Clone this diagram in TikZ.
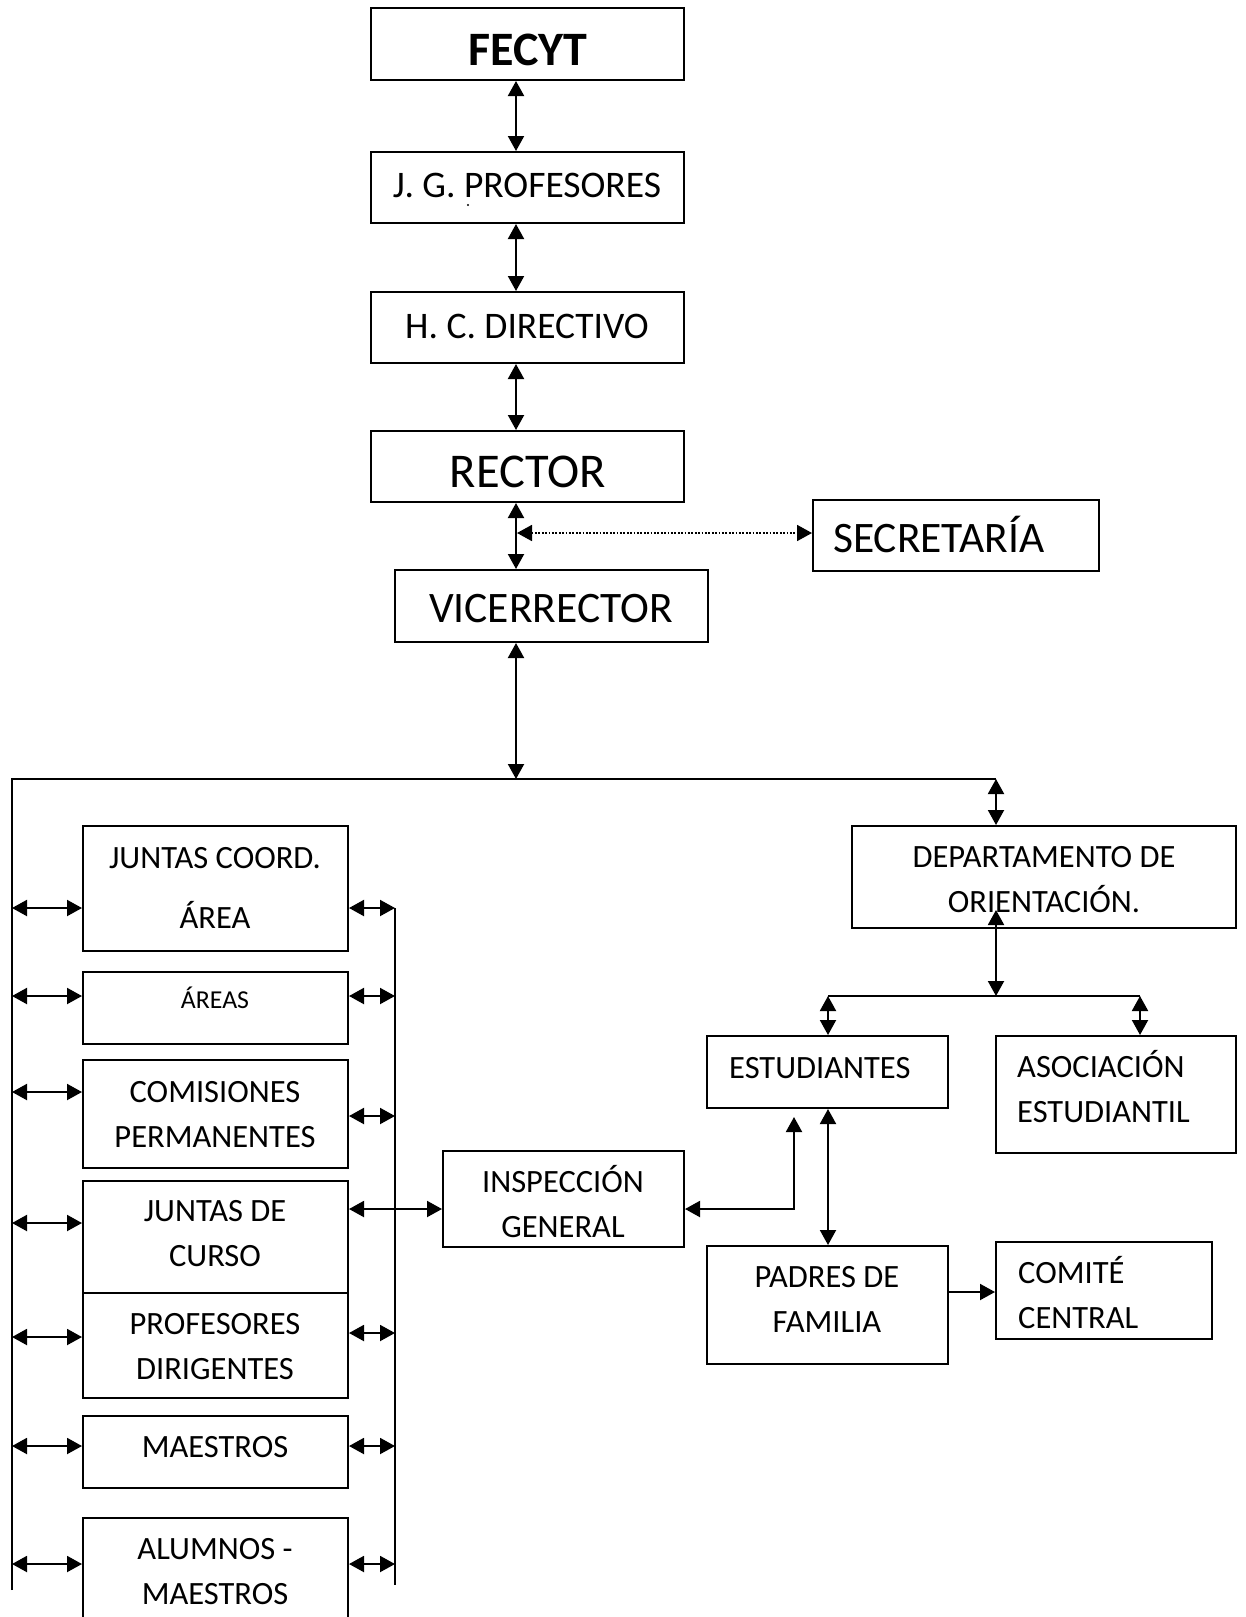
\documentclass[tikz,border=0pt]{standalone}
\usepackage{fontspec}
\setmainfont{Carlito}
\usetikzlibrary{arrows.meta}

\begin{document}
\begin{tikzpicture}[x=1pt,y=-1pt,
  >={Triangle[length=15pt,width=16pt]},
  box/.style={draw, line width=2pt, inner sep=0pt},
  conn/.style={line width=2pt},
  biarrow/.style={conn, <->},
  onearrow/.style={conn, ->},
  dotarrow/.style={line width=1.8pt, dash pattern=on 1.8pt off 1.6pt, <->},
  txt/.style={inner sep=0pt, align=center, font=\fontsize{32.5}{45}\selectfont},
  txtl/.style={txt, align=left},
  big/.style={inner sep=0pt, font=\fontsize{37.5}{45}\selectfont},
  huge/.style={inner sep=0pt, font=\fontsize{43.5}{52}\selectfont}]

\useasboundingbox (0,0) rectangle (1245,1617);
\clip (0,0) rectangle (1245,1617);

% ---- central chain ----
\node[box, minimum width=313pt, minimum height=72pt] (fecyt) at (527.5,44) {};
\node[box, minimum width=313pt, minimum height=71pt] (jgp) at (527.5,187.5) {};
\node[box, minimum width=313pt, minimum height=71pt] (hcd) at (527.5,327.5) {};
\node[box, minimum width=313pt, minimum height=71pt] (rector) at (527.5,466.5) {};
\node[box, minimum width=286pt, minimum height=71pt] (secre) at (956,535.5) {};
\node[box, minimum width=313pt, minimum height=72pt] (vice) at (551.5,606) {};

\node[inner sep=0pt, anchor=base, font=\fontsize{48}{56}\selectfont\bfseries] (fecyt-t) at (528,65) {FECYT};
\node[big, anchor=base] (jgp-t) at (527,197) {J. G. PROFESORES};
\fill (468,205) circle (1.2pt);
\node[big, anchor=base] (hcd-t) at (527,338) {H. C. DIRECTIVO};
\node[inner sep=0pt, anchor=base, font=\fontsize{48.5}{58}\selectfont] (rector-t) at (528,487) {RECTOR};
\node[huge, anchor=base west] (secre-t) at (833,552) {SECRETARÍA};
\node[huge, anchor=base] (vice-t) at (551,622) {VICERRECTOR};

\coordinate (mx) at (516,0);
\draw[biarrow] (fecyt.south -| mx) -- (jgp.north -| mx);
\draw[biarrow] (jgp.south -| mx) -- (hcd.north -| mx);
\draw[biarrow] (hcd.south -| mx) -- (rector.north -| mx);
\draw[biarrow] (rector.south -| mx) -- (vice.north -| mx);
\coordinate (dotL) at (517,533);
\draw[dotarrow] (dotL) -- (secre.west |- dotL);

% ---- main bus ----
\coordinate (busM) at (516,779);
\coordinate (busL) at (12,779);
\coordinate (busR) at (996,779);
\coordinate (busBot) at (12,1590);
\draw[biarrow] (vice.south -| mx) -- (busM);
\draw[conn] (busBot) -- (busL) -- (busR);

% ---- right branch ----
\node[box, minimum width=384pt, minimum height=102pt] (dept) at (1044,877) {};
\node[box, minimum width=241pt, minimum height=72pt] (estud) at (827.5,1072) {};
\node[box, minimum width=240pt, minimum height=117pt] (asoc) at (1116,1094.5) {};
\node[box, minimum width=241pt, minimum height=96pt] (insp) at (563.5,1199) {};
\node[box, minimum width=241pt, minimum height=118pt] (padres) at (827.5,1305) {};
\node[box, minimum width=216pt, minimum height=97pt] (comite) at (1104,1290.5) {};

% multi-line labels are placed by the baseline of their last line
\node[txt, anchor=base] (dept-t) at (1044,912) {DEPARTAMENTO DE\\ORIENTACIÓN.};
\node[txtl, anchor=base west] (estud-t) at (729,1078) {ESTUDIANTES};
\node[txtl, anchor=base west] (asoc-t) at (1017,1122) {ASOCIACIÓN\\ESTUDIANTIL};
\node[txt, anchor=base] (insp-t) at (563,1237) {INSPECCIÓN\\GENERAL};
\node[txt, anchor=base] (padres-t) at (827,1332) {PADRES DE\\FAMILIA};
\node[txtl, anchor=base west] (comite-t) at (1018,1328) {COMITÉ\\CENTRAL};

\draw[biarrow] (busR) -- (dept.north -| busR);
\coordinate (dTip) at (996,910);
\coordinate (subM) at (996,996);
\coordinate (subL) at (828,996);
\coordinate (subR) at (1140,996);
\draw[biarrow] (dTip) -- (subM);
\draw[conn] (subL) -- (subR);
\draw[biarrow] (subL) -- (estud.north -| subL);
\draw[biarrow] (subR) -- (asoc.north -| subR);
\draw[biarrow] (estud.south -| subL) -- (padres.north -| subL);
\coordinate (iCorner) at (794,1209);
\coordinate (iTip) at (794,1117);
\draw[biarrow] (insp.east |- iCorner) -- (iCorner) -- (iTip);
\coordinate (pc) at (0,1292);
\draw[onearrow] (padres.east |- pc) -- (comite.west |- pc);

% ---- left column ----
\node[box, minimum width=265pt, minimum height=125pt] (jca) at (215.5,888.5) {};
\node[box, minimum width=265pt, minimum height=72pt] (areas) at (215.5,1008) {};
\node[box, minimum width=265pt, minimum height=108pt] (comis) at (215.5,1114) {};
\node[box, minimum width=265pt, minimum height=112pt] (jdc) at (215.5,1237) {};
\node[box, minimum width=265pt, minimum height=105pt] (profd) at (215.5,1345.5) {};
\node[box, minimum width=265pt, minimum height=72pt] (maest) at (215.5,1452) {};
\node[box, minimum width=265pt, minimum height=182pt] (alum) at (215.5,1609) {};

\node[txt, anchor=base, font=\fontsize{32.5}{60}\selectfont] (jca-t) at (215,928) {JUNTAS COORD.\\ÁREA};
\node[txt, anchor=base, font=\fontsize{25.8}{30}\selectfont] (areas-t) at (215,1008) {ÁREAS};
\node[txt, anchor=base] (comis-t) at (215,1147) {COMISIONES\\PERMANENTES};
\node[txt, anchor=base] (jdc-t) at (215,1266) {JUNTAS DE\\CURSO};
\node[txt, anchor=base] (profd-t) at (215,1379) {PROFESORES\\DIRIGENTES};
\node[txt, anchor=base] (maest-t) at (215,1457) {MAESTROS};
\node[txt, anchor=base] (alum-t) at (215,1604) {ALUMNOS -\\MAESTROS};

\coordinate (barTop) at (395,908);
\coordinate (barBot) at (395,1585);
\draw[conn] (barTop) -- (barBot);

\foreach \b/\yl/\yr in {jca/908/908, areas/996/996, comis/1092/1116,
                        profd/1337/1333, maest/1446/1446, alum/1564/1564} {
  \draw[biarrow] (busL |- 0,\yl) -- (\b.west |- 0,\yl);
  \draw[biarrow] (\b.east |- 0,\yr) -- (barTop |- 0,\yr);
}
\draw[biarrow] (busL |- 0,1223) -- (jdc.west |- 0,1223);
\draw[biarrow] (jdc.east |- iCorner) -- (insp.west |- iCorner);

\end{tikzpicture}
\end{document}
